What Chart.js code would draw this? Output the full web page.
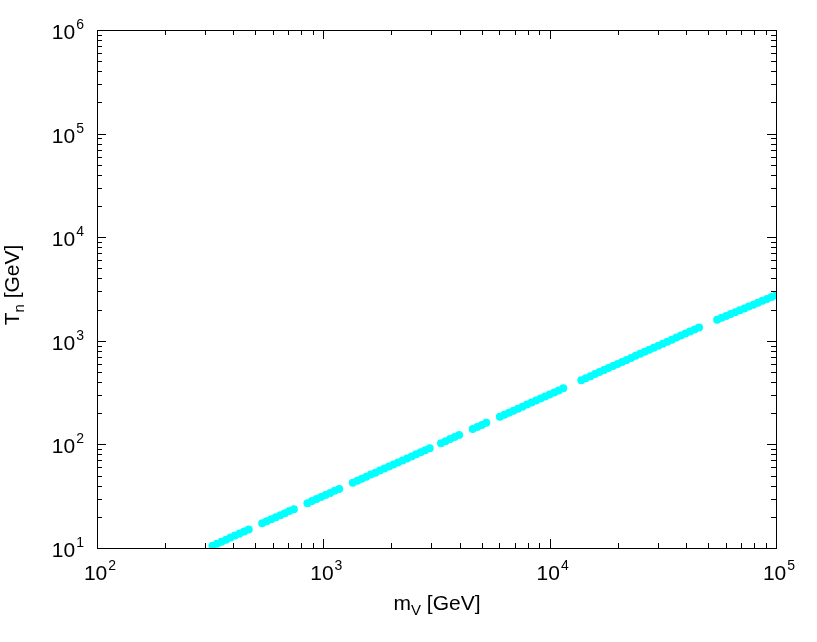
<!DOCTYPE html>
<html>
<head>
<meta charset="utf-8">
<script src="https://cdn.jsdelivr.net/npm/chart.js@4.4.0/dist/chart.umd.min.js"></script>
<style>
  body { margin: 0; background: #fff; }
</style>
</head>
<body>
<canvas id="tnChart" width="817" height="642"></canvas>
<script>
// m_V [GeV]
const mV = [
  324, 339, 355, 372, 389, 407, 427, 447, 468,
  537, 562, 589, 617, 646, 676, 708, 741,
  851, 891, 933, 977, 1023, 1072, 1122, 1175,
  1349, 1413, 1479, 1549, 1622, 1698, 1778, 1862, 1950, 2042, 2138, 2239, 2344, 2455, 2570, 2692, 2818, 2951,
  3311, 3467, 3631, 3802, 3981,
  4571, 4786, 5012, 5248,
  6026, 6310, 6607, 6918, 7244, 7586, 7943, 8318, 8710, 9120, 9550, 10000, 10470, 10960, 11480,
  13800, 14450, 15140, 15850, 16600, 17380, 18200, 19050, 19950, 20890, 21880, 22910, 23990, 25120, 26300, 27540, 28840, 30200, 31620, 33110, 34670, 36310, 38020, 39810, 41690, 43650, 45710,
  54950, 57540, 60260, 63100, 66070, 69180, 72440, 75860, 79430, 83180, 87100, 91200, 95500, 100000
];
// T_n [GeV]
const Tn = [
  10.5, 11.0, 11.5, 12.0, 12.6, 13.2, 13.8, 14.4, 15.1,
  17.3, 18.1, 18.9, 19.8, 20.7, 21.7, 22.7, 23.7,
  27.1, 28.4, 29.7, 31.1, 32.5, 34.0, 35.6, 37.2,
  42.6, 44.6, 46.6, 48.8, 51.1, 53.4, 55.9, 58.5, 61.2, 64.0, 66.9, 70.0, 73.3, 76.6, 80.2, 83.9, 87.7, 91.8,
  102.8, 107.5, 112.5, 117.7, 123.1,
  141.0, 147.4, 154.2, 161.4,
  184.8, 193.3, 202.2, 211.5, 221.4, 231.5, 242.3, 253.4, 265.1, 277.3, 290.1, 303.5, 317.5, 332.2, 347.5,
  416, 436, 456, 477, 499, 522, 546, 571, 597, 625, 654, 684, 716, 749, 783, 819, 857, 897, 938, 981, 1026, 1074, 1124, 1176, 1229, 1286, 1346,
  1596, 1665, 1736, 1811, 1889, 1970, 2055, 2142, 2234, 2330, 2431, 2535, 2644, 2757
];
// decade exponents for tick labels
const xExps = [2, 3, 4, 5];
const yExps = [1, 2, 3, 4, 5, 6];

const FONT = '"Liberation Sans", Arial, sans-serif';

function drawPow(ctx, exp, x, y, align) {
  ctx.font = '21px ' + FONT;
  const w1 = ctx.measureText('10').width;
  ctx.font = '14px ' + FONT;
  const w2 = ctx.measureText(String(exp)).width;
  const total = w1 + w2 + 1;
  let x0 = align === 'right' ? x - total : x - total / 2;
  ctx.textAlign = 'left';
  ctx.textBaseline = 'alphabetic';
  ctx.font = '21px ' + FONT;
  ctx.fillText('10', x0, y);
  ctx.font = '14px ' + FONT;
  ctx.fillText(String(exp), x0 + w1 + 1, y - 10);
}

// text with one subscript part: [main, sub, rest]
function drawSub(ctx, parts, x, y) {
  ctx.font = '21px ' + FONT;
  const a = ctx.measureText(parts[0]).width;
  const c = ctx.measureText(parts[2]).width;
  ctx.font = '15px ' + FONT;
  const b = ctx.measureText(parts[1]).width;
  let x0 = x - (a + b + c) / 2;
  ctx.textAlign = 'left';
  ctx.textBaseline = 'alphabetic';
  ctx.font = '21px ' + FONT;
  ctx.fillText(parts[0], x0, y);
  ctx.font = '15px ' + FONT;
  ctx.fillText(parts[1], x0 + a, y + 5);
  ctx.font = '21px ' + FONT;
  ctx.fillText(parts[2], x0 + a + b, y);
}

const gnuFrame = {
  id: 'gnuFrame',
  afterDraw(chart) {
    const { ctx, chartArea: a, scales: { x, y } } = chart;
    ctx.save();
    ctx.strokeStyle = '#000';
    ctx.fillStyle = '#000';
    ctx.lineWidth = 1;
    ctx.strokeRect(Math.round(a.left) + 0.5, Math.round(a.top) + 0.5,
      Math.round(a.right - a.left), Math.round(a.bottom - a.top));

    ctx.beginPath();
    // x ticks (bottom and top, inward)
    for (let e = 2; e < 5; e++) {
      for (let k = 1; k < 10; k++) {
        const px = Math.round(x.getPixelForValue(k * Math.pow(10, e))) + 0.5;
        const len = k === 1 ? 9 : 5;
        ctx.moveTo(px, a.bottom); ctx.lineTo(px, a.bottom - len);
        ctx.moveTo(px, a.top); ctx.lineTo(px, a.top + len);
      }
    }
    // y ticks (left and right, inward)
    for (let e = 1; e < 6; e++) {
      for (let k = 1; k < 10; k++) {
        const py = Math.round(y.getPixelForValue(k * Math.pow(10, e))) + 0.5;
        const len = k === 1 ? 9 : 5;
        ctx.moveTo(a.left, py); ctx.lineTo(a.left + len, py);
        ctx.moveTo(a.right, py); ctx.lineTo(a.right - len, py);
      }
    }
    ctx.stroke();

    // tick labels
    xExps.forEach(e => {
      drawPow(ctx, e, x.getPixelForValue(Math.pow(10, e)) + 3, a.bottom + 32, 'center');
    });
    yExps.forEach(e => {
      drawPow(ctx, e, 84, y.getPixelForValue(Math.pow(10, e)) + 9, 'right');
    });

    // axis titles
    drawSub(ctx, ['m', 'V', ' [GeV]'], 437, 610);
    ctx.save();
    ctx.translate(19, 285);
    ctx.rotate(-Math.PI / 2);
    drawSub(ctx, ['T', 'n', ' [GeV]'], 0, 0);
    ctx.restore();

    ctx.restore();
  }
};

const CTX = document.getElementById('tnChart').getContext('2d');
const points = mV.map((m, i) => ({ x: m, y: Tn[i] }));

new Chart(CTX, {
  type: 'scatter',
  data: {
    datasets: [{
      data: points,
      backgroundColor: 'rgb(0, 255, 255)',
      borderWidth: 0,
      pointRadius: 4,
      pointHoverRadius: 4,
      clip: { left: 0, top: 0, right: 1, bottom: 0 }
    }]
  },
  options: {
    responsive: false,
    animation: false,
    events: [],
    layout: { padding: { left: 97, top: 30, right: 41, bottom: 94 } },
    plugins: {
      legend: { display: false },
      tooltip: { enabled: false }
    },
    scales: {
      x: { type: 'logarithmic', min: 100, max: 100000, display: false },
      y: { type: 'logarithmic', min: 10, max: 1000000, display: false }
    }
  },
  plugins: [gnuFrame]
});
</script>
</body>
</html>
